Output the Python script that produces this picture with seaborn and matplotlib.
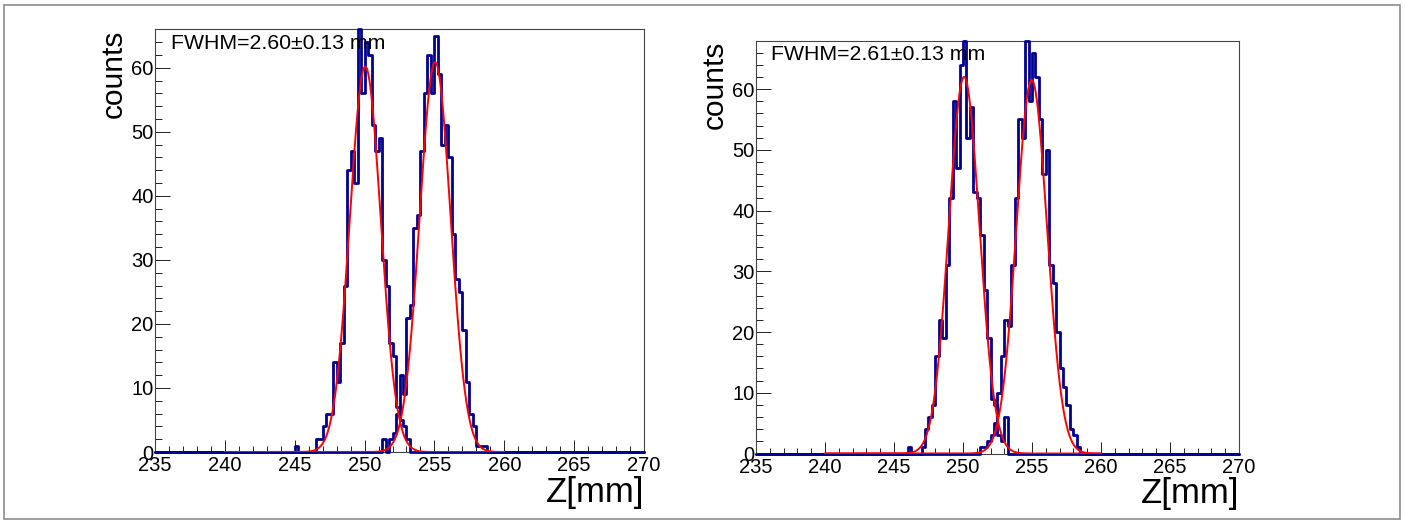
import numpy as np
import pandas as pd
import matplotlib
matplotlib.use("Agg")
import matplotlib.pyplot as plt
import seaborn as sns
from matplotlib.ticker import MultipleLocator
from matplotlib.patches import Rectangle

# ---------------- data ----------------
z_min, z_max = 235.0, 270.0
bin_width = 0.25

# left panel: histogram of first peak (counts per 0.25 mm bin, starting at given edge)
left_peak1_start = 245.0
left_peak1_counts = [1, 0, 0, 0, 0, 0, 2, 2, 4, 6, 6, 14, 11, 17, 26, 44, 47, 42,
                     66, 56, 64, 62, 51, 47, 49, 30, 26, 17, 15, 7, 5, 4, 2]
# left panel: histogram of second peak
left_peak2_start = 251.25
left_peak2_counts = [2, 0, 2, 3, 6, 12, 9, 21, 23, 35, 37, 47, 56, 62, 56, 65,
                     59, 48, 51, 46, 34, 27, 25, 19, 11, 6, 4, 1, 1, 1]

# right panel: histogram of first peak
right_peak1_start = 246.0
right_peak1_counts = [1, 0, 0, 0, 1, 4, 6, 8, 16, 22, 19, 31, 42, 58, 47, 64, 68,
                      52, 57, 43, 42, 36, 27, 19, 9, 8, 3, 2, 6]
# right panel: histogram of second peak
right_peak2_start = 251.25
right_peak2_counts = [1, 1, 2, 3, 5, 10, 16, 22, 21, 31, 42, 55, 52, 68, 58, 66,
                      62, 55, 46, 50, 31, 28, 20, 14, 11, 8, 4, 3, 1]

# gaussian fit parameters
left_fit_amp = [60.2, 60.9]
left_fit_mean = [250.05, 255.05]
left_fit_sigma = [1.104, 1.104]
right_fit_amp = [62.0, 61.5]
right_fit_mean = [250.08, 254.98]
right_fit_sigma = [1.108, 1.11]
fit_range = (240.0, 260.0)

fwhm_texts = ["FWHM=2.60\u00b10.13 mm", "FWHM=2.61\u00b10.13 mm"]
y_max = [66, 68]
x_ticks = [235, 240, 245, 250, 255, 260, 265, 270]
y_ticks = [0, 10, 20, 30, 40, 50, 60]
x_title = "Z[mm]"
y_title = "counts"

# ---------------- style ----------------
sns.set_style("white")
plt.rcParams["font.family"] = ["Liberation Sans", "DejaVu Sans"]
plt.rcParams["text.color"] = "black"
plt.rcParams["axes.labelcolor"] = "black"

hist_color = "#00008f"
fit_color = "#ff0000"

W, H = 1405, 524
fig = plt.figure(figsize=(W / 100, H / 100), dpi=100)
fig.patch.set_facecolor("white")

# outer canvas border
fig.add_artist(Rectangle((4 / W, 5 / H), (1400 - 4) / W, (519 - 5) / H,
                         transform=fig.transFigure, fill=False,
                         edgecolor="#8c8c8c", linewidth=1.2))

axes_px = [(155, 644, 29.4, 452.0), (756, 1239, 40.5, 453.5)]

panels = [
    (left_peak1_start, left_peak1_counts, left_peak2_start, left_peak2_counts,
     left_fit_amp, left_fit_mean, left_fit_sigma),
    (right_peak1_start, right_peak1_counts, right_peak2_start, right_peak2_counts,
     right_fit_amp, right_fit_mean, right_fit_sigma),
]

for k, (s1, c1, s2, c2, amps, means, sigs) in enumerate(panels):
    x0, x1, yt, yb = axes_px[k]
    ax = fig.add_axes([x0 / W, 1 - yb / H, (x1 - x0) / W, (yb - yt) / H])
    ax.set_facecolor("white")

    for start, counts in ((s1, c1), (s2, c2)):
        centers = start + bin_width * (np.arange(len(counts)) + 0.5)
        df = pd.DataFrame({"z": centers, "n": np.asarray(counts, dtype=float)})
        sns.histplot(data=df, x="z", weights="n", binwidth=bin_width,
                     binrange=(z_min, z_max), element="step",
                     fill=False, color=hist_color, linewidth=2.0, ax=ax,
                     zorder=3, clip_on=False)

    xf = np.linspace(fit_range[0], fit_range[1], 800)
    for a, m, s in zip(amps, means, sigs):
        fit_df = pd.DataFrame({"z": xf, "y": a * np.exp(-0.5 * ((xf - m) / s) ** 2)})
        sns.lineplot(data=fit_df, x="z", y="y", color=fit_color, linewidth=1.4,
                     ax=ax, zorder=4)

    ax.set_xlim(z_min, z_max)
    ax.set_ylim(0, y_max[k])
    ax.set_xticks(x_ticks)
    ax.set_yticks(y_ticks)
    ax.xaxis.set_minor_locator(MultipleLocator(1))
    ax.yaxis.set_minor_locator(MultipleLocator(2))
    ax.set_xticklabels([str(t) for t in x_ticks])
    ax.set_yticklabels([str(t) for t in y_ticks])

    ax.tick_params(axis="both", which="both", direction="in", top=False,
                   right=False, bottom=True, left=True, colors="#222222",
                   width=0.7, labelcolor="black")
    ax.tick_params(axis="y", which="major", length=10.5, pad=1, labelsize=14.5)
    ax.tick_params(axis="y", which="minor", length=5.3)
    ax.tick_params(axis="x", which="major", length=9, pad=3, labelsize=14.5)
    ax.tick_params(axis="x", which="minor", length=4.5)

    for sp in ax.spines.values():
        sp.set_visible(True)
        sp.set_color("#444444")
        sp.set_linewidth(0.8)

    ax.set_xlabel(x_title, fontsize=25, loc="right", color="black")
    ax.set_ylabel(y_title, fontsize=21.5, loc="top", color="black")
    ax.xaxis.set_label_coords(1.0, -0.056)
    ax.yaxis.set_label_coords(-0.056, 1.0)

    ax.text(0.032, 0.953, fwhm_texts[k], transform=ax.transAxes, fontsize=15.3,
            ha="left", va="baseline", zorder=6, color="black")

fig.savefig("out.png", dpi=100, facecolor="white")
